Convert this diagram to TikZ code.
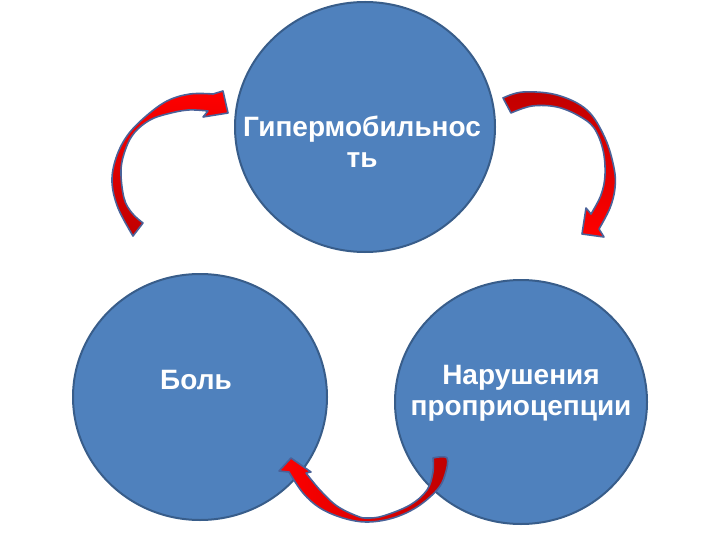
\documentclass[tikz,border=0pt]{standalone}
\usepackage{fontspec}
\setmainfont{Liberation Sans}
\usetikzlibrary{shapes.geometric}
\definecolor{circfill}{HTML}{4F81BD}
\definecolor{circline}{HTML}{385D8A}
\definecolor{arrline}{HTML}{4A6299}
\definecolor{redhi}{HTML}{FF0000}
\definecolor{redlo}{HTML}{C00000}
\tikzset{
  bubble/.style={ellipse, fill=circfill, draw=circline, line width=2pt, inner sep=0pt},
  lbl/.style={text=white, font=\bfseries\fontsize{28}{31}\selectfont, align=center, inner sep=0pt},
  blockarrow/.style={draw=arrline, line width=1.6pt, line join=round},
}
\begin{document}
\begin{tikzpicture}[x=1pt,y=-1pt]
\useasboundingbox (0,0) rectangle (720,540);
% circles
\node[bubble, minimum width=260pt, minimum height=250pt] (hyper) at (365,127) {};
\node[bubble, minimum width=254pt, minimum height=246pt] (pain) at (200,397) {};
\node[bubble, minimum width=252pt, minimum height=244pt] (prop) at (521,402) {};
% labels
\node[lbl] (hypertxt) at (362,142) {Гипермобильнос\\ть};
\node[lbl] (paintxt) at (196,380) {Боль};
\node[lbl] (proptxt) at (521,393) {Нарушения\\проприоцепции};
% arrow: pain -> hyper
\path[blockarrow, top color=redhi, bottom color=redlo]
  plot[smooth, tension=0.6] coordinates {(133,236) (118,208) (112,182) (116,158) (127,136) (145,117) (167,101) (190,94) (213,94)}
  -- (223,91) -- (228,113) -- (203,117) -- (208,111)
  -- plot[smooth, tension=0.6] coordinates {(208,111) (188,110) (167,114) (150,120) (135,132) (126,148) (121,170) (124,198) (132,213) (143,223)}
  -- cycle;
% arrow: hyper -> prop
\path[blockarrow, top color=redlo, bottom color=redhi]
  plot[smooth, tension=0.6] coordinates {(503,98) (523,92) (557,95) (587,110) (605,138) (614,168) (615,188) (610,208) (599,229)}
  -- (604,237) -- (582,234) -- (586,208) -- (591,214)
  -- plot[smooth, tension=0.6] coordinates {(591,214) (601,195) (605,175) (603,150) (594,128) (579,116) (557,107) (532,106) (511,113)}
  -- cycle;
% arrow: prop -> pain
\path[blockarrow, left color=redhi, right color=redlo]
  plot[smooth, tension=0.6] coordinates {(433,458) (447,458) (445,475) (437,490) (417,507) (393,518) (367,522) (343,518) (320,508) (303,493) (289,472)}
  -- (279,471) -- (291,458) -- (311,472) -- (306,473)
  -- plot[smooth, tension=0.6] coordinates {(306,473) (320,490) (337,506) (357,516) (367,518) (383,516) (410,505) (427,490) (433,472) (433,458)}
  -- cycle;
\end{tikzpicture}
\end{document}
